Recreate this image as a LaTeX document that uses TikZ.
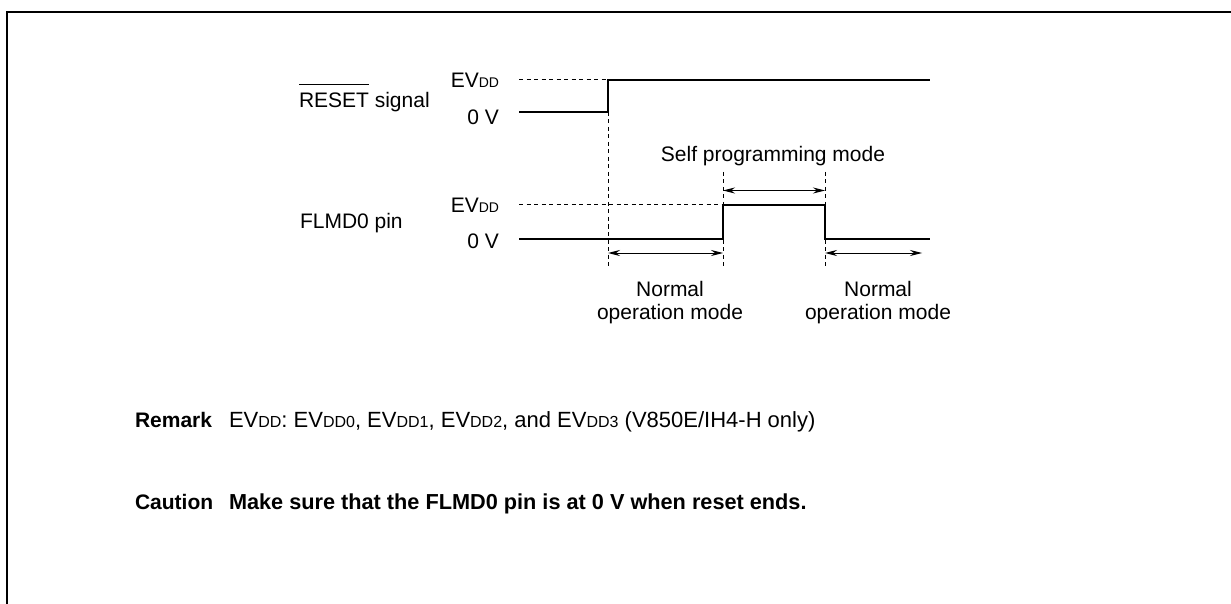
\documentclass[tikz,border=0pt]{standalone}
\usepackage{fontspec}
\setmainfont{Liberation Sans}
\usetikzlibrary{arrows.meta}
\newcommand{\sbs}[1]{{\fontsize{14}{14}\selectfont #1}}
\newcommand{\sbl}[1]{{\fontsize{16}{16}\selectfont #1}}
\newcommand{\ovl}[1]{\setbox0\hbox{#1}\rlap{\rule[\dimexpr\ht0+8.5pt\relax]{\wd0}{0.9pt}}\box0\relax}
\begin{document}
\begin{tikzpicture}[x=1pt,y=-1pt,
  txt/.style={font=\fontsize{21}{22.5}\selectfont, inner sep=0pt, outer sep=0pt},
  wave/.style={line width=2.5pt},
  guide/.style={line width=1pt, dash pattern=on 4pt off 3.5pt},
  span/.style={line width=1pt, {Stealth[length=12pt,width=6pt]}-{Stealth[length=12pt,width=6pt]}},
  framestyle/.style={line width=2.5pt}]
\useasboundingbox (0,0) rectangle (1231,604);
% frame
\coordinate (fa) at (7,604);
\coordinate (fb) at (7,12);
\coordinate (fc) at (1231,12);
\draw[framestyle] (fa) -- (fb) -- (fc);
% labels
\node[txt, anchor=base west] (rstlbl) at (299,108) {\ovl{RESET} signal};
\node[txt, anchor=base east] (rstvdd) at (499,88) {EV\sbs{DD}};
\node[txt, anchor=base east] (rst0) at (499,125) {0 V};
\node[txt, anchor=base west] (flmlbl) at (300,229) {FLMD0 pin};
\node[txt, anchor=base east] (flmvdd) at (499,213) {EV\sbs{DD}};
\node[txt, anchor=base east] (flm0) at (499,248) {0 V};
% RESET waveform
\coordinate (r0) at (519,112);
\coordinate (r1) at (608,112);
\coordinate (r2) at (608,80);
\coordinate (r3) at (930,80);
\coordinate (rd) at (519,80);
\draw[guide] (rd) -- (r2);
\draw[wave] (r0) -- (r1) -- (r2) -- (r3);
% FLMD0 waveform
\coordinate (f0) at (519,239);
\coordinate (f1) at (723,239);
\coordinate (f2) at (723,205);
\coordinate (f3) at (825,205);
\coordinate (f4) at (825,239);
\coordinate (f5) at (930,239);
\coordinate (fd) at (519,205);
\draw[guide] (fd) -- (f2);
% vertical guides
\coordinate (g1b) at (608,268);
\coordinate (g2t) at (723,172);
\coordinate (g2b) at (723,268);
\coordinate (g3t) at (825,172);
\coordinate (g3b) at (825,268);
\draw[guide] (r1) -- (g1b);
\draw[guide] (g2t) -- (g2b);
\draw[guide] (g3t) -- (g3b);
\draw[wave] (f0) -- (f1) -- (f2) -- (f3) -- (f4) -- (f5);
% spans
\coordinate (a1l) at (608,253);
\coordinate (a1r) at (723,253);
\coordinate (a2l) at (723,190.5);
\coordinate (a2r) at (825,190.5);
\coordinate (a3l) at (825,253);
\coordinate (a3r) at (922,253);
\draw[span] (a1l) -- (a1r);
\draw[span] (a2l) -- (a2r);
\draw[span] (a3l) -- (a3r);
\node[txt, anchor=base] (selfmode) at (773,162) {Self programming mode};
\node[txt, anchor=base, align=center] (norm1) at (670,319) {Normal\\operation mode};
\node[txt, anchor=base, align=center] (norm2) at (878,319) {Normal\\operation mode};
% remark and caution
\node[txt, anchor=base west] (rmk) at (135,427) {\bfseries Remark};
\node[txt, anchor=base west, font=\fontsize{22}{24}\selectfont] (rmktxt) at (229,427) {EV\sbl{DD}: EV\sbl{DD0}, EV\sbl{DD1}, EV\sbl{DD2}, and EV\sbl{DD3} (V850E/IH4-H only)};
\node[txt, anchor=base west] (cau) at (135,509) {\bfseries Caution};
\node[txt, anchor=base west, font=\fontsize{21.7}{24}\selectfont] (cautxt) at (229,509) {\bfseries Make sure that the FLMD0 pin is at 0 V when reset ends.};
\end{tikzpicture}
\end{document}
